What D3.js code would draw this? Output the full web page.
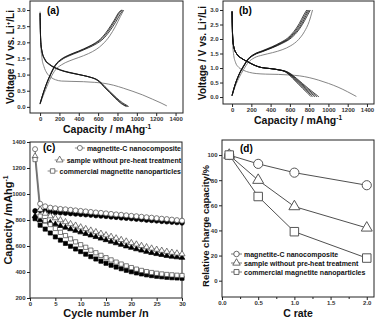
<!DOCTYPE html>
<html>
<head>
<meta charset="utf-8">
<script src="https://cdn.jsdelivr.net/npm/d3@7"></script>
<style>
body { margin: 0; background: #fff; }
svg { display: block; font-family: "Liberation Sans", Arial, sans-serif; }
.tick text { font-size: 6px; font-weight: bold; fill: #333; }
.tick line { stroke: #222; }
.axisTitle { font-weight: bold; fill: #111; }
.panelLabel { font-size: 10px; font-weight: bold; }
.legendText { font-size: 7px; font-weight: bold; fill: #111; }
</style>
</head>
<body>
<svg id="chart" width="377" height="320"></svg>
<script>
'use strict'

// ---- panel (a): charge / discharge profiles, [capacity mAh/g, voltage V]
const aDischarge1 = [[0,2.95],[2,2.5],[5,2.1],[10,1.8],[20,1.5],[40,1.25],[70,1.05],[110,0.92],[160,0.84],[220,0.8],[320,0.79],[450,0.78],[560,0.76],[660,0.73],[760,0.67],[860,0.58],[960,0.48],[1060,0.37],[1160,0.24],[1250,0.12],[1310,0.03]]
const aDischarge2 = [[0,2.9],[3,2.4],[8,2.0],[20,1.7],[50,1.45],[100,1.3],[170,1.18],[250,1.1],[350,1.03],[450,0.97],[530,0.91],[580,0.86],[620,0.78],[670,0.63],[730,0.45],[790,0.28],[850,0.13],[900,0.04],[915,0.01]]
const aDischarge3 = [[0,2.9],[3,2.4],[8,2.0],[20,1.72],[50,1.47],[100,1.31],[170,1.19],[250,1.1],[350,1.03],[450,0.97],[530,0.91],[575,0.86],[615,0.78],[665,0.62],[725,0.44],[785,0.27],[840,0.12],[890,0.03],[905,0.01]]
const aDischarge4 = [[0,2.9],[3,2.4],[8,2.0],[20,1.73],[50,1.48],[100,1.32],[170,1.2],[250,1.11],[350,1.04],[450,0.97],[525,0.91],[570,0.86],[610,0.78],[660,0.62],[720,0.44],[775,0.27],[830,0.12],[878,0.03],[892,0.01]]
const aCharge1 = [[0,0.08],[20,0.25],[60,0.55],[110,0.9],[160,1.15],[220,1.3],[300,1.42],[400,1.53],[500,1.65],[580,1.78],[650,1.95],[720,2.2],[780,2.5],[830,2.8],[865,3.0]]
const aCharge2 = [[0,0.1],[20,0.3],[60,0.65],[110,1.0],[160,1.28],[220,1.45],[300,1.58],[400,1.7],[500,1.83],[580,1.95],[650,2.1],[720,2.35],[780,2.62],[830,2.88],[858,3.0]]
const aCharge3 = [[0,0.1],[20,0.3],[60,0.66],[110,1.02],[160,1.3],[220,1.47],[300,1.6],[400,1.72],[500,1.85],[575,1.97],[645,2.13],[712,2.38],[772,2.66],[822,2.92],[848,3.0]]
const aCharge4 = [[0,0.1],[20,0.31],[60,0.67],[110,1.03],[160,1.31],[220,1.48],[300,1.61],[400,1.73],[495,1.86],[570,1.98],[640,2.15],[705,2.4],[765,2.68],[815,2.93],[840,3.0]]

// ---- panel (b)
const bDischarge1 = [[0,2.95],[2,2.4],[6,1.9],[15,1.5],[35,1.2],[70,1.02],[120,0.92],[180,0.85],[250,0.81],[350,0.79],[480,0.78],[600,0.76],[700,0.73],[800,0.67],[900,0.58],[1000,0.47],[1100,0.34],[1200,0.18],[1290,0.02]]
const bDischarge2 = [[0,2.95],[3,2.4],[8,2.0],[20,1.7],[50,1.48],[100,1.33],[160,1.22],[230,1.1],[300,1.02],[400,0.98],[500,0.93],[565,0.88],[610,0.8],[670,0.64],[730,0.47],[790,0.3],[850,0.14],[885,0.05],[900,0.01]]
const bDischarge3 = [[0,2.95],[3,2.4],[8,2.0],[20,1.7],[50,1.48],[100,1.33],[160,1.22],[230,1.1],[300,1.02],[400,0.98],[500,0.93],[560,0.88],[602,0.8],[660,0.64],[718,0.47],[775,0.3],[832,0.14],[865,0.05],[880,0.01]]
const bDischarge4 = [[0,2.95],[3,2.4],[8,2.0],[20,1.7],[50,1.48],[100,1.33],[160,1.22],[230,1.1],[300,1.02],[400,0.98],[500,0.93],[555,0.88],[595,0.8],[650,0.64],[706,0.47],[760,0.3],[815,0.14],[847,0.05],[860,0.01]]
const bDischarge5 = [[0,2.95],[3,2.4],[8,2.0],[20,1.7],[50,1.48],[100,1.33],[160,1.22],[230,1.1],[300,1.02],[400,0.98],[495,0.93],[550,0.88],[588,0.8],[640,0.64],[694,0.47],[746,0.3],[798,0.14],[828,0.05],[840,0.01]]
const bDischarge6 = [[0,2.95],[3,2.4],[8,2.0],[20,1.7],[50,1.48],[100,1.33],[160,1.22],[230,1.1],[300,1.02],[400,0.98],[490,0.93],[545,0.88],[580,0.8],[630,0.64],[682,0.47],[732,0.3],[782,0.14],[810,0.05],[822,0.01]]
const bCharge1 = [[0,0.05],[25,0.3],[70,0.65],[120,0.95],[170,1.2],[230,1.35],[320,1.45],[420,1.53],[520,1.63],[610,1.77],[690,1.98],[750,2.25],[800,2.6],[835,3.0]]
const bCharge2 = [[0,0.05],[25,0.35],[70,0.75],[120,1.05],[170,1.3],[230,1.45],[320,1.57],[420,1.7],[520,1.85],[600,2.0],[670,2.22],[730,2.5],[780,2.8],[812,3.0]]
const bCharge3 = [[0,0.05],[25,0.35],[70,0.75],[120,1.06],[170,1.31],[230,1.46],[320,1.58],[420,1.71],[515,1.86],[592,2.01],[660,2.23],[720,2.51],[768,2.81],[800,3.0]]
const bCharge4 = [[0,0.05],[25,0.36],[70,0.76],[120,1.07],[170,1.32],[230,1.47],[320,1.59],[418,1.72],[510,1.87],[585,2.02],[650,2.24],[708,2.52],[756,2.82],[788,3.0]]
const bCharge5 = [[0,0.05],[25,0.36],[70,0.77],[120,1.08],[170,1.33],[230,1.48],[318,1.6],[412,1.73],[503,1.88],[576,2.03],[640,2.25],[697,2.53],[744,2.83],[775,3.0]]

// ---- panel (c): cycling, capacity mAh/g per cycle
const cycles = d3.range(1, 31)
const cCompositeDis = [1345, 925, 905, 895, 890, 885, 882, 878, 874, 870, 866, 862, 858, 855, 851, 847, 843, 840, 836, 832, 829, 825, 821, 818, 814, 810, 807, 803, 799, 795]
const cCompositeChg = [870, 875, 868, 862, 858, 856, 853, 850, 847, 844, 841, 838, 834, 831, 828, 824, 821, 817, 814, 811, 807, 804, 800, 797, 794, 790, 787, 784, 781, 778]
const cNoPreheatDis = [1290, 880, 850, 830, 815, 800, 785, 770, 758, 745, 732, 720, 708, 696, 684, 672, 660, 648, 636, 624, 613, 602, 592, 582, 573, 565, 557, 550, 544, 538]
const cNoPreheatChg = [830, 800, 790, 780, 768, 755, 742, 730, 718, 706, 694, 682, 670, 658, 646, 634, 622, 610, 598, 587, 576, 566, 556, 547, 539, 532, 525, 519, 514, 510]
const cCommercialDis = [1265, 830, 795, 765, 735, 705, 680, 655, 632, 610, 590, 568, 548, 528, 510, 493, 476, 461, 447, 434, 422, 412, 403, 396, 390, 385, 381, 378, 375, 373]
const cCommercialChg = [810, 760, 730, 700, 670, 645, 620, 598, 577, 557, 537, 518, 500, 483, 467, 452, 438, 425, 413, 402, 393, 385, 378, 372, 367, 363, 359, 356, 354, 352]

// ---- panel (d): rate capability, relative charge capacity %
const dRates = [0.1, 0.5, 1.0, 2.0]
const dComposite = [100, 93, 86, 76]
const dNoPreheat = [100, 80, 59, 42]
const dCommercial = [100, 67, 39, 18]

const legendNames = ['magnetite-C nanocomposite', 'sample without pre-heat treatment', 'commercial magnetite nanoparticles']

const svg = d3.select('#chart')

function makePanel(box, xDomain, yDomain) {
    const x = d3.scaleLinear().domain(xDomain).range([box.left, box.right])
    const y = d3.scaleLinear().domain(yDomain).range([box.bottom, box.top])
    svg.append('rect')
        .attr('x', box.left).attr('y', box.top)
        .attr('width', box.right - box.left).attr('height', box.bottom - box.top)
        .attr('fill', 'none').attr('stroke', '#222').attr('stroke-width', 1)
    return { x, y, box }
}

function drawAxes(p, xTicks, yTicks, xFmt, yFmt) {
    svg.append('g')
        .attr('transform', 'translate(0,' + p.box.bottom + ')')
        .call(d3.axisBottom(p.x).tickValues(xTicks).tickFormat(xFmt).tickSize(3).tickPadding(1))
        .call(g => g.select('.domain').remove())
    svg.append('g')
        .attr('transform', 'translate(' + p.box.left + ',0)')
        .call(d3.axisLeft(p.y).tickValues(yTicks).tickFormat(yFmt).tickSize(3).tickPadding(1.5))
        .call(g => g.select('.domain').remove())
}

// parts: [[text, isSuperscript], ...]
function axisTitle(x, y, size, parts, rotate) {
    const t = svg.append('text')
        .classed('axisTitle', true)
        .attr('text-anchor', 'middle')
        .attr('font-size', size)
        .attr('transform', 'translate(' + x + ',' + y + ')' + (rotate ? ' rotate(-90)' : ''))
    let raised = false
    parts.forEach(([s, sup]) => {
        const ts = t.append('tspan').text(s)
        if (sup && !raised) { ts.attr('dy', -size * 0.4).attr('font-size', size * 0.62); raised = true }
        else if (!sup && raised) { ts.attr('dy', size * 0.4); raised = false }
    })
}

function profileLines(p, curves, color, width) {
    const line = d3.line().x(d => p.x(d[0])).y(d => p.y(d[1])).curve(d3.curveMonotoneX)
    svg.append('g').selectAll('path').data(curves).enter().append('path')
        .attr('d', line).attr('fill', 'none')
        .attr('stroke', color).attr('stroke-width', width)
}

// ---------- (a)
const pa = makePanel({ left: 30, top: 1, right: 183, bottom: 113 }, [-104, 1477], [-0.19, 3.28])
profileLines(pa, [aDischarge1, aCharge1], '#777', 0.9)
profileLines(pa, [aDischarge2, aDischarge3, aDischarge4, aCharge2, aCharge3, aCharge4], '#111', 0.8)
drawAxes(pa, d3.range(0, 1401, 200), d3.range(0, 3.01, 0.5), d3.format('d'), d3.format('.1f'))
axisTitle(107, 133, 10.5, [['Capacity / mAhg'], ['-1', true]])
axisTitle(14, 57, 10, [['Voltage / V vs. Li'], ['+', true], ['/Li']], true)
svg.append('text').classed('panelLabel', true).attr('x', 47).attr('y', 14).text('(a)')

// ---------- (b)
const pb = makePanel({ left: 223, top: 1, right: 374, bottom: 104 }, [-94, 1473], [-0.24, 3.31])
profileLines(pb, [bDischarge1, bCharge1], '#777', 0.9)
profileLines(pb, [bDischarge2, bDischarge3, bDischarge4, bDischarge5, bDischarge6, bCharge2, bCharge3, bCharge4, bCharge5], '#111', 0.8)
drawAxes(pb, d3.range(0, 1401, 200), d3.range(0, 3.01, 0.5), d3.format('d'), d3.format('.1f'))
axisTitle(298, 124, 10.5, [['Capacity / mAhg'], ['-1', true]])
axisTitle(206, 53, 10, [['Voltage / V vs. Li'], ['+', true], ['/Li']], true)
svg.append('text').classed('panelLabel', true).attr('x', 239).attr('y', 14).text('(b)')

// ---------- (c)
const pc = makePanel({ left: 30, top: 142, right: 182, bottom: 298 }, [0, 30], [200, 1400])
const cSeries = [
    { values: cCompositeChg, type: d3.symbolCircle, size: 18, filled: true },
    { values: cNoPreheatChg, type: d3.symbolTriangle, size: 14, filled: true },
    { values: cCommercialChg, type: d3.symbolSquare, size: 17, filled: true },
    { values: cCompositeDis, type: d3.symbolCircle, size: 20, filled: false },
    { values: cNoPreheatDis, type: d3.symbolTriangle, size: 16, filled: false },
    { values: cCommercialDis, type: d3.symbolSquare, size: 18, filled: false }
]
const cLine = d3.line().x((d, i) => pc.x(cycles[i])).y(d => pc.y(d))
cSeries.forEach(s => {
    svg.append('path').attr('d', cLine(s.values))
        .attr('fill', 'none').attr('stroke', '#555').attr('stroke-width', 0.7)
})
cSeries.forEach(s => {
    svg.append('g').selectAll('path').data(s.values).enter().append('path')
        .attr('d', d3.symbol().type(s.type).size(s.size))
        .attr('transform', (d, i) => 'translate(' + pc.x(cycles[i]) + ',' + pc.y(d) + ')')
        .attr('fill', s.filled ? '#000' : '#fff')
        .attr('stroke', s.filled ? '#000' : '#444')
        .attr('stroke-width', 0.7)
})
drawAxes(pc, d3.range(0, 31, 5), d3.range(200, 1401, 200), d3.format('d'), d3.format('d'))
axisTitle(106, 317, 11, [['Cycle number /n']])
axisTitle(12, 220, 11, [['Capacity /mAhg'], ['-1', true]], true)
svg.append('text').classed('panelLabel', true).attr('x', 43).attr('y', 151).text('(c)')

const cLegendTypes = [d3.symbolCircle, d3.symbolTriangle, d3.symbolSquare]
const cLegendY = [148, 160, 171]
legendNames.forEach((name, i) => {
    const t = svg.append('text').classed('legendText', true)
        .attr('x', 181).attr('y', cLegendY[i] + 2.5).attr('text-anchor', 'end').text(name)
    const sx = 181 - t.node().getComputedTextLength() - 7
    svg.append('line').attr('x1', sx - 5).attr('x2', sx + 5)
        .attr('y1', cLegendY[i]).attr('y2', cLegendY[i]).attr('stroke', '#555').attr('stroke-width', 0.7)
    svg.append('path').attr('d', d3.symbol().type(cLegendTypes[i]).size(20))
        .attr('transform', 'translate(' + sx + ',' + cLegendY[i] + ')')
        .attr('fill', '#fff').attr('stroke', '#444').attr('stroke-width', 0.7)
})

// ---------- (d)
const pd = makePanel({ left: 222, top: 140, right: 374, bottom: 297 }, [0, 2.1], [-13, 112])
const dSeries = [
    { values: dComposite, type: d3.symbolCircle, size: 66 },
    { values: dNoPreheat, type: d3.symbolTriangle, size: 52 },
    { values: dCommercial, type: d3.symbolSquare, size: 72 }
]
const dLine = d3.line().x((d, i) => pd.x(dRates[i])).y(d => pd.y(d))
dSeries.forEach(s => {
    svg.append('path').attr('d', dLine(s.values))
        .attr('fill', 'none').attr('stroke', '#222').attr('stroke-width', 0.8)
})
dSeries.forEach(s => {
    svg.append('g').selectAll('path').data(s.values).enter().append('path')
        .attr('d', d3.symbol().type(s.type).size(s.size))
        .attr('transform', (d, i) => 'translate(' + pd.x(dRates[i]) + ',' + pd.y(d) + ')')
        .attr('fill', '#fff').attr('stroke', '#555').attr('stroke-width', 1)
})
drawAxes(pd, d3.range(0, 2.01, 0.5), d3.range(0, 101, 20), d3.format('.1f'), d3.format('d'))
svg.append('g')
    .attr('transform', 'translate(0,' + pd.box.bottom + ')')
    .call(d3.axisBottom(pd.x).tickValues([0.25, 0.75, 1.25, 1.75]).tickFormat('').tickSize(2))
    .call(g => g.select('.domain').remove())
axisTitle(298, 317, 10.5, [['C rate']])
axisTitle(209, 226, 9.5, [['Relative charge capacity/%']], true)
svg.append('text').classed('panelLabel', true).attr('x', 240).attr('y', 152).text('(d)')

const dLegendY = [254, 263, 272]
legendNames.forEach((name, i) => {
    svg.append('line').attr('x1', 231).attr('x2', 242)
        .attr('y1', dLegendY[i]).attr('y2', dLegendY[i]).attr('stroke', '#444').attr('stroke-width', 0.7)
    svg.append('path').attr('d', d3.symbol().type(cLegendTypes[i]).size(24))
        .attr('transform', 'translate(236.5,' + dLegendY[i] + ')')
        .attr('fill', '#fff').attr('stroke', '#444').attr('stroke-width', 0.8)
    svg.append('text').classed('legendText', true)
        .attr('x', 244).attr('y', dLegendY[i] + 2.5).text(name)
})
</script>
</body>
</html>
